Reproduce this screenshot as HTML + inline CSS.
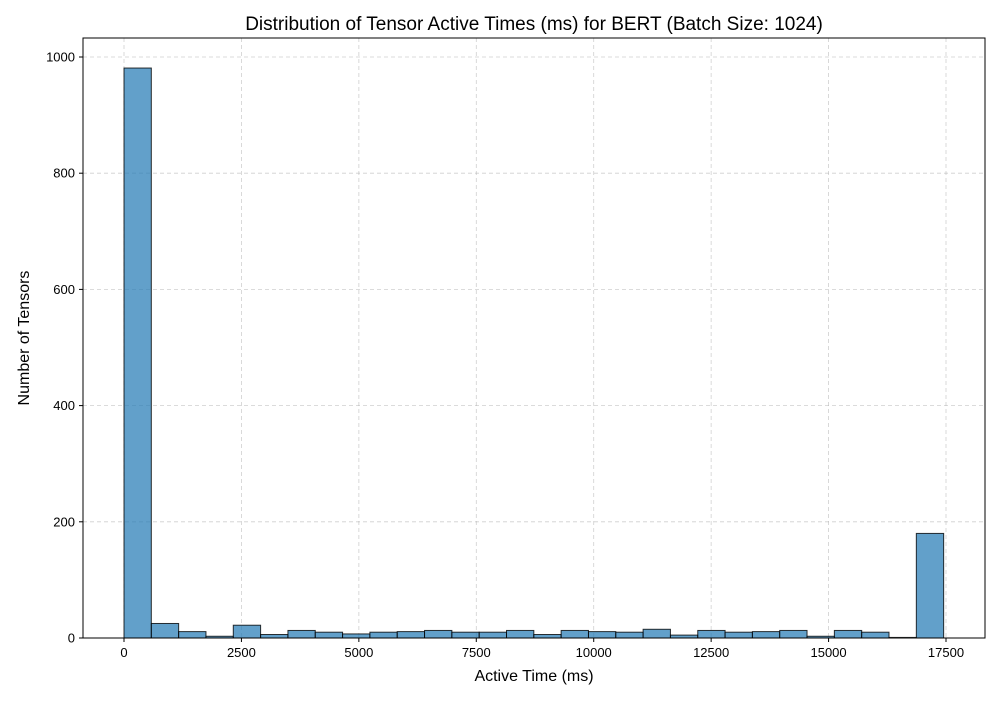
<!DOCTYPE html>
<html><head><meta charset="utf-8"><style>
body{margin:0;background:#fff;font-family:"Liberation Sans",sans-serif}
</style></head><body>
<svg id="chart" width="1000" height="700" xmlns="http://www.w3.org/2000/svg"></svg>
<script>
const binStart = 0;
const binEnd = 17450;
const counts = [981,25,11,3,22,6,13,10,7,10,11,13,10,10,13,6,13,11,10,15,5,13,10,11,13,3,13,10,1,180];
const xTicks = [0,2500,5000,7500,10000,12500,15000,17500];
const yTicks = [0,200,400,600,800,1000];
const svg = document.getElementById('chart');
const NS = 'http://www.w3.org/2000/svg';
const L=83,R=985,T=38,B=638;
const x = v => 124 + v*(946-124)/17500;
const y = v => 638 - v*(638-57)/1000;
function mk(tag, attrs){const e=document.createElementNS(NS,tag);for(const k in attrs)e.setAttribute(k,attrs[k]);svg.appendChild(e);return e;}
// grid
xTicks.forEach(t=>{const g=mk('line',{x1:x(t),x2:x(t),y1:T,y2:B,stroke:'#b0b0b0','stroke-width':0.8,'stroke-dasharray':'4,3',opacity:0.6});

});
yTicks.forEach(t=>{const g=mk('line',{x1:L,x2:R,y1:y(t),y2:y(t),stroke:'#b0b0b0','stroke-width':0.8,'stroke-dasharray':'4,3',opacity:0.6});

});
// bars
const w=(binEnd-binStart)/counts.length;
counts.forEach((c,i)=>{const x0=x(binStart+i*w),x1=x(binStart+(i+1)*w);
const r=mk('rect',{x:x0,y:y(c),width:x1-x0,height:y(0)-y(c),fill:'#1f77b4','fill-opacity':0.7,stroke:'#000','stroke-opacity':0.8,'stroke-width':1});

});
// frame
const f=mk('rect',{x:L,y:T,width:R-L,height:B-T,fill:'none',stroke:'#000','stroke-width':1});


xTicks.forEach(t=>{mk('line',{x1:x(t),x2:x(t),y1:B,y2:B+4,stroke:'#000'});
const tx=mk('text',{x:x(t),y:B+19,'text-anchor':'middle','font-size':13});tx.textContent=t;

});
yTicks.forEach(t=>{mk('line',{x1:L-4,x2:L,y1:y(t),y2:y(t),stroke:'#000'});
const tx=mk('text',{x:L-8,y:y(t)+4.5,'text-anchor':'end','font-size':13});tx.textContent=t;

});
const ti=mk('text',{x:534,y:30,'text-anchor':'middle','font-size':19});ti.textContent='Distribution of Tensor Active Times (ms) for BERT (Batch Size: 1024)';


const xl=mk('text',{x:534,y:681,'text-anchor':'middle','font-size':16});xl.textContent='Active Time (ms)';


const yl=mk('text',{x:29,y:338,'text-anchor':'middle','font-size':16,transform:'rotate(-90 29 338)'});yl.textContent='Number of Tensors';


</script>
</body></html>
